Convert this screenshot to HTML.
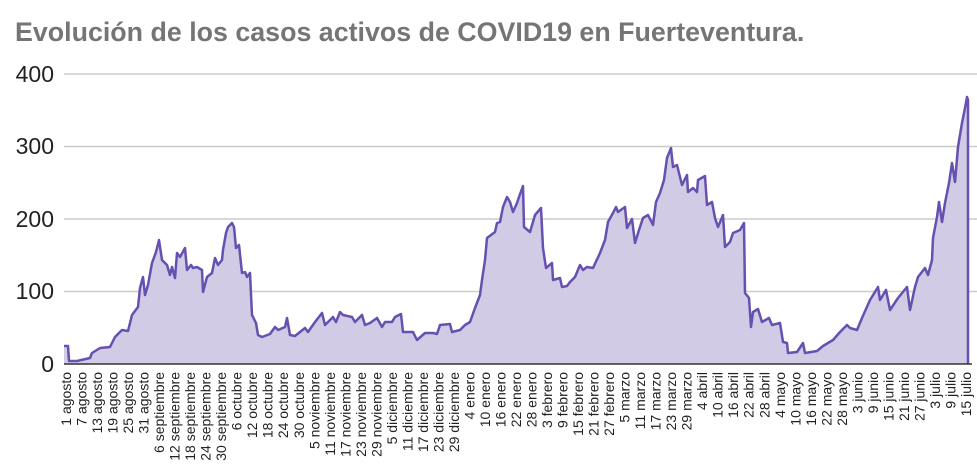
<!DOCTYPE html>
<html><head><meta charset="utf-8"><style>
html,body{margin:0;padding:0;background:#fff;}
svg{display:block;font-family:"Liberation Sans",Arial,sans-serif;}
</style></head><body>
<svg width="977" height="465" viewBox="0 0 977 465" xmlns="http://www.w3.org/2000/svg">
<text x="15" y="41" font-size="26.8" font-weight="bold" fill="#757575">Evolución de los casos activos de COVID19 en Fuerteventura.</text>
<g stroke="#cccccc" stroke-width="1.5">
<line x1="64" y1="74" x2="977" y2="74"/>
<line x1="64" y1="146.5" x2="977" y2="146.5"/>
<line x1="64" y1="219" x2="977" y2="219"/>
<line x1="64" y1="291.5" x2="977" y2="291.5"/>
</g>
<g font-size="23" fill="#222" text-anchor="end">
<text x="54" y="82">400</text>
<text x="54" y="154">300</text>
<text x="54" y="227">200</text>
<text x="54" y="299">100</text>
<text x="54" y="372">0</text>
</g>
<polygon fill="#d1cbe5" points="64,364 64,346 68,346 69,361 77,361 90,358 92,353 100,348 110,347 115,337 122,330 128,331 132,315 138,307 140,288 143,277 145,295 148,285 152,263 156,252 159,240 162,260 167,265 170,275 172,267 175,278 177,253 180,257 185,248 187,270 191,265 193,268 197,267 202,270 203,292 207,277 212,273 215,258 218,265 222,260 223,250 226,233 228,227 232,223 234,227 236,248 239,245 242,273 245,272 247,277 250,273 252,315 256,323 258,335 262,337 270,334 275,327 278,330 285,327 287,318 290,335 295,336 305,328 308,332 315,322 322,313 325,325 333,317 336,322 340,312 343,315 352,317 355,322 362,315 365,325 370,323 377,318 382,327 385,322 392,322 395,317 401,314 403,332 413,332 417,340 425,333 433,333 437,334 440,325 450,324 452,332 460,330 465,325 470,322 475,308 480,295 482,280 485,260 487,238 495,232 497,223 500,222 503,207 507,197 510,202 513,212 517,203 519,197 523,186 524,227 530,232 535,215 541,208 543,248 546,268 552,263 553,280 560,278 562,287 567,286 570,282 575,277 580,265 583,270 587,267 593,268 600,253 605,240 608,222 613,213 616,207 618,212 625,207 627,228 632,219 635,243 639,230 643,218 648,215 653,225 656,202 660,193 664,180 667,158 671,148 673,167 677,165 682,185 687,175 688,192 693,188 697,192 698,180 705,176 707,205 712,202 715,218 718,227 723,215 725,247 730,242 733,233 740,230 744,223 745,293 749,298 751,327 753,312 758,309 762,322 769,318 772,325 780,323 783,342 787,343 788,353 797,352 803,343 805,353 817,351 823,346 833,340 840,332 847,325 850,328 857,330 862,318 870,300 878,287 880,300 886,290 890,310 898,298 907,287 910,310 915,287 918,277 925,268 928,275 932,260 933,238 937,217 939,202 942,222 945,203 949,183 952,163 955,182 958,147 962,123 965,108 967,97 968,100 968,364"/>
<polyline fill="none" stroke="#6650b0" stroke-width="2.5" stroke-linejoin="round" points="64,346 68,346 69,361 77,361 90,358 92,353 100,348 110,347 115,337 122,330 128,331 132,315 138,307 140,288 143,277 145,295 148,285 152,263 156,252 159,240 162,260 167,265 170,275 172,267 175,278 177,253 180,257 185,248 187,270 191,265 193,268 197,267 202,270 203,292 207,277 212,273 215,258 218,265 222,260 223,250 226,233 228,227 232,223 234,227 236,248 239,245 242,273 245,272 247,277 250,273 252,315 256,323 258,335 262,337 270,334 275,327 278,330 285,327 287,318 290,335 295,336 305,328 308,332 315,322 322,313 325,325 333,317 336,322 340,312 343,315 352,317 355,322 362,315 365,325 370,323 377,318 382,327 385,322 392,322 395,317 401,314 403,332 413,332 417,340 425,333 433,333 437,334 440,325 450,324 452,332 460,330 465,325 470,322 475,308 480,295 482,280 485,260 487,238 495,232 497,223 500,222 503,207 507,197 510,202 513,212 517,203 519,197 523,186 524,227 530,232 535,215 541,208 543,248 546,268 552,263 553,280 560,278 562,287 567,286 570,282 575,277 580,265 583,270 587,267 593,268 600,253 605,240 608,222 613,213 616,207 618,212 625,207 627,228 632,219 635,243 639,230 643,218 648,215 653,225 656,202 660,193 664,180 667,158 671,148 673,167 677,165 682,185 687,175 688,192 693,188 697,192 698,180 705,176 707,205 712,202 715,218 718,227 723,215 725,247 730,242 733,233 740,230 744,223 745,293 749,298 751,327 753,312 758,309 762,322 769,318 772,325 780,323 783,342 787,343 788,353 797,352 803,343 805,353 817,351 823,346 833,340 840,332 847,325 850,328 857,330 862,318 870,300 878,287 880,300 886,290 890,310 898,298 907,287 910,310 915,287 918,277 925,268 928,275 932,260 933,238 937,217 939,202 942,222 945,203 949,183 952,163 955,182 958,147 962,123 965,108 967,97 968,100 968,364"/>
<line x1="64" y1="364" x2="972" y2="364" stroke="#333" stroke-width="1.5"/>
<g font-size="14" fill="#222" text-anchor="end">
<text x="71" y="372" transform="rotate(-90 71 372)">1 agosto</text>
<text x="86.5" y="372" transform="rotate(-90 86.5 372)">7 agosto</text>
<text x="102" y="372" transform="rotate(-90 102 372)">13 agosto</text>
<text x="117.6" y="372" transform="rotate(-90 117.6 372)">19 agosto</text>
<text x="133.1" y="372" transform="rotate(-90 133.1 372)">25 agosto</text>
<text x="148.6" y="372" transform="rotate(-90 148.6 372)">31 agosto</text>
<text x="164.1" y="372" transform="rotate(-90 164.1 372)">6 septiembre</text>
<text x="179.6" y="372" transform="rotate(-90 179.6 372)">12 septiembre</text>
<text x="195.1" y="372" transform="rotate(-90 195.1 372)">18 septiembre</text>
<text x="210.7" y="372" transform="rotate(-90 210.7 372)">24 septiembre</text>
<text x="226.2" y="372" transform="rotate(-90 226.2 372)">30 septiembre</text>
<text x="241.7" y="372" transform="rotate(-90 241.7 372)">6 octubre</text>
<text x="257.2" y="372" transform="rotate(-90 257.2 372)">12 octubre</text>
<text x="272.7" y="372" transform="rotate(-90 272.7 372)">18 octubre</text>
<text x="288.2" y="372" transform="rotate(-90 288.2 372)">24 octubre</text>
<text x="303.8" y="372" transform="rotate(-90 303.8 372)">30 octubre</text>
<text x="319.3" y="372" transform="rotate(-90 319.3 372)">5 noviembre</text>
<text x="334.8" y="372" transform="rotate(-90 334.8 372)">11 noviembre</text>
<text x="350.3" y="372" transform="rotate(-90 350.3 372)">17 noviembre</text>
<text x="365.8" y="372" transform="rotate(-90 365.8 372)">23 noviembre</text>
<text x="381.3" y="372" transform="rotate(-90 381.3 372)">29 noviembre</text>
<text x="396.9" y="372" transform="rotate(-90 396.9 372)">5 diciembre</text>
<text x="412.4" y="372" transform="rotate(-90 412.4 372)">11 diciembre</text>
<text x="427.9" y="372" transform="rotate(-90 427.9 372)">17 diciembre</text>
<text x="443.4" y="372" transform="rotate(-90 443.4 372)">23 diciembre</text>
<text x="458.9" y="372" transform="rotate(-90 458.9 372)">29 diciembre</text>
<text x="474.4" y="372" transform="rotate(-90 474.4 372)">4 enero</text>
<text x="490" y="372" transform="rotate(-90 490 372)">10 enero</text>
<text x="505.5" y="372" transform="rotate(-90 505.5 372)">16 enero</text>
<text x="521" y="372" transform="rotate(-90 521 372)">22 enero</text>
<text x="536.5" y="372" transform="rotate(-90 536.5 372)">28 enero</text>
<text x="552" y="372" transform="rotate(-90 552 372)">3 febrero</text>
<text x="567.5" y="372" transform="rotate(-90 567.5 372)">9 febrero</text>
<text x="583.1" y="372" transform="rotate(-90 583.1 372)">15 febrero</text>
<text x="598.6" y="372" transform="rotate(-90 598.6 372)">21 febrero</text>
<text x="614.1" y="372" transform="rotate(-90 614.1 372)">27 febrero</text>
<text x="629.6" y="372" transform="rotate(-90 629.6 372)">5 marzo</text>
<text x="645.1" y="372" transform="rotate(-90 645.1 372)">11 marzo</text>
<text x="660.6" y="372" transform="rotate(-90 660.6 372)">17 marzo</text>
<text x="676.2" y="372" transform="rotate(-90 676.2 372)">23 marzo</text>
<text x="691.7" y="372" transform="rotate(-90 691.7 372)">29 marzo</text>
<text x="707.2" y="372" transform="rotate(-90 707.2 372)">4 abril</text>
<text x="722.7" y="372" transform="rotate(-90 722.7 372)">10 abril</text>
<text x="738.2" y="372" transform="rotate(-90 738.2 372)">16 abril</text>
<text x="753.7" y="372" transform="rotate(-90 753.7 372)">22 abril</text>
<text x="769.3" y="372" transform="rotate(-90 769.3 372)">28 abril</text>
<text x="784.8" y="372" transform="rotate(-90 784.8 372)">4 mayo</text>
<text x="800.3" y="372" transform="rotate(-90 800.3 372)">10 mayo</text>
<text x="815.8" y="372" transform="rotate(-90 815.8 372)">16 mayo</text>
<text x="831.3" y="372" transform="rotate(-90 831.3 372)">22 mayo</text>
<text x="846.8" y="372" transform="rotate(-90 846.8 372)">28 mayo</text>
<text x="862.4" y="372" transform="rotate(-90 862.4 372)">3 junio</text>
<text x="877.9" y="372" transform="rotate(-90 877.9 372)">9 junio</text>
<text x="893.4" y="372" transform="rotate(-90 893.4 372)">15 junio</text>
<text x="908.9" y="372" transform="rotate(-90 908.9 372)">21 junio</text>
<text x="924.4" y="372" transform="rotate(-90 924.4 372)">27 junio</text>
<text x="939.9" y="372" transform="rotate(-90 939.9 372)">3 julio</text>
<text x="955.5" y="372" transform="rotate(-90 955.5 372)">9 julio</text>
<text x="971" y="372" transform="rotate(-90 971 372)">15 julio</text>
</g>
</svg>
</body></html>
